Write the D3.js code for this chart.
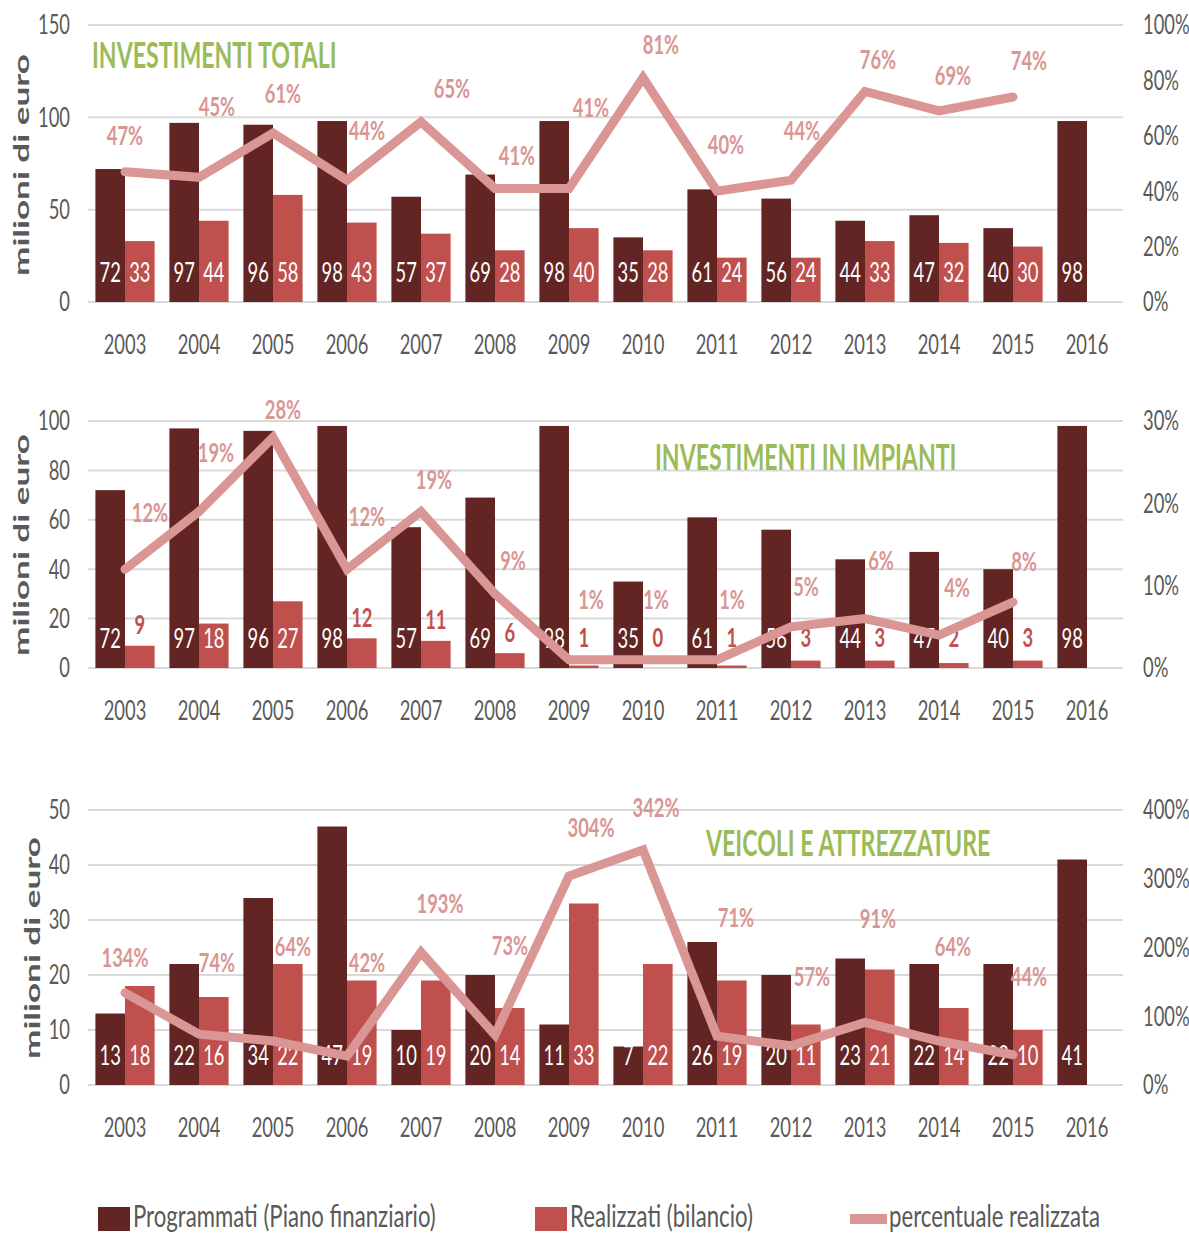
<!DOCTYPE html>
<html>
<head>
<meta charset="utf-8">
<script src="https://cdn.jsdelivr.net/npm/d3@7"></script>
<style>
  body { margin: 0; background: #fff; }
  text { font-family: Lato, "Open Sans", sans-serif; }
</style>
</head>
<body>
<svg id="chart" width="1189" height="1236"></svg>
<script>
// --- data ---
var years = ["2003","2004","2005","2006","2007","2008","2009","2010","2011","2012","2013","2014","2015","2016"];

var totProg = [72, 97, 96, 98, 57, 69, 98, 35, 61, 56, 44, 47, 40, 98];
var totReal = [33, 44, 58, 43, 37, 28, 40, 28, 24, 24, 33, 32, 30];
var totPct  = [47, 45, 61, 44, 65, 41, 41, 81, 40, 44, 76, 69, 74];

var impProg = [72, 97, 96, 98, 57, 69, 98, 35, 61, 56, 44, 47, 40, 98];
var impReal = [9, 18, 27, 12, 11, 6, 1, 0, 1, 3, 3, 2, 3];
var impPct  = [12, 19, 28, 12, 19, 9, 1, 1, 1, 5, 6, 4, 8];

var veiProg = [13, 22, 34, 47, 10, 20, 11, 7, 26, 20, 23, 22, 22, 41];
var veiReal = [18, 16, 22, 19, 19, 14, 33, 22, 19, 11, 21, 14, 10];
var veiPct  = [134, 74, 64, 42, 193, 73, 304, 342, 71, 57, 91, 64, 44];

var totTicks = [0, 50, 100, 150];
var impTicks = [0, 20, 40, 60, 80, 100];
var veiTicks = [0, 10, 20, 30, 40, 50];
var totPctTicks = [0, 20, 40, 60, 80, 100];
var impPctTicks = [0, 10, 20, 30];
var veiPctTicks = [0, 100, 200, 300, 400];

var legendLabels = ["Programmati (Piano finanziario)", "Realizzati (bilancio)", "percentuale realizzata"];

// hand-placed percentage labels (offset from the line point, px)
var totNudge = [[0,-36],[18,-71],[10,-39],[20,-50],[31,-33],[22,-33],[22,-81],[18,-33],[9,-47],[11,-50],[13,-32],[14,-35],[16,-36]];
var impNudge = [[25,-57],[17,-59],[10,-28],[20,-53],[13,-32],[18,-33],[22,-60],[13,-60],[15,-60],[15,-40],[16,-58],[18,-48],[11,-41]];
var veiNudge = [[0,-35],[18,-72],[20,-94],[20,-94],[19,-49],[15,-89],[22,-48],[13,-42],[19,-119],[21,-69],[13,-104],[14,-94],[16,-78]];

// --- styles ---
var C_PROG = "#632523", C_REAL = "#C0504D", C_PCT = "#D99694";
var C_GRID = "#D9D9D9", C_TEXT = "#595959", C_TITLE = "#9BBB59";
var SX = 0.68; // squeeze text horizontally, the source is a stretched image

var svg = d3.select("#chart");

var x = d3.scaleBand().domain(years).range([88, 1124]).padding(0);
var xs = d3.scaleBand().domain(["p", "r"]).range([0, x.bandwidth()]).paddingOuter(0.25);

function tr(px, py, sx) { return "translate(" + px + "," + py + ") scale(" + (sx || SX) + ",1)"; }

function panel(o) {
  var g = svg.append("g");
  var y = d3.scaleLinear().domain([0, o.max]).range([o.y0, o.y1]);
  var yp = d3.scaleLinear().domain([0, o.pmax]).range([o.y0, o.y1]);

  // gridlines
  g.selectAll(".grid").data(o.ticks).join("line")
    .attr("x1", 88).attr("x2", 1123)
    .attr("y1", function(d) { return y(d); }).attr("y2", function(d) { return y(d); })
    .attr("stroke", C_GRID).attr("stroke-width", 2);

  // left ticks
  g.selectAll(".lt").data(o.ticks).join("text")
    .attr("transform", function(d) { return tr(70, y(d)); })
    .attr("dy", "0.35em").attr("text-anchor", "end")
    .attr("font-size", 27).attr("fill", C_TEXT).text(function(d) { return d; });

  // right ticks
  g.selectAll(".rt").data(o.pticks).join("text")
    .attr("transform", function(d) { return tr(1143, yp(d)); })
    .attr("dy", "0.35em").attr("text-anchor", "start")
    .attr("font-size", 27).attr("fill", C_TEXT).text(function(d) { return d + "%"; });

  // years
  g.selectAll(".yr").data(years).join("text")
    .attr("transform", function(d) { return tr(x(d) + x.bandwidth() / 2, o.y0 + 43); })
    .attr("dy", "0.35em").attr("text-anchor", "middle")
    .attr("font-size", 27).attr("fill", C_TEXT).text(function(d) { return d; });

  // axis title
  g.append("text")
    .attr("transform", "translate(" + o.titleX + "," + o.titleY + ") rotate(-90)")
    .attr("text-anchor", "middle").attr("dy", "0.35em")
    .attr("font-family", "DejaVu Sans").attr("font-weight", "bold")
    .attr("font-size", 21).attr("fill", C_TEXT)
    .attr("textLength", 222).attr("lengthAdjust", "spacingAndGlyphs")
    .text("milioni di euro");

  // chart title
  g.append("text")
    .attr("transform", tr(o.nameX, o.nameY, 0.625))
    .attr("dy", "0.35em").attr("font-size", 37).attr("font-weight", 700)
    .attr("fill", C_TITLE).text(o.name);

  // bars
  var bw = xs.bandwidth();
  g.selectAll(".bp").data(o.prog).join("rect")
    .attr("x", function(d, i) { return x(years[i]) + xs("p"); })
    .attr("y", function(d) { return y(d); })
    .attr("width", bw).attr("height", function(d) { return o.y0 - y(d); })
    .attr("fill", C_PROG);
  g.selectAll(".br").data(o.real).join("rect")
    .attr("x", function(d, i) { return x(years[i]) + xs("r"); })
    .attr("y", function(d) { return y(d); })
    .attr("width", bw).attr("height", function(d) { return o.y0 - y(d); })
    .attr("fill", C_REAL);

  // bar labels
  g.selectAll(".lp").data(o.prog).join("text")
    .attr("transform", function(d, i) { return tr(x(years[i]) + xs("p") + bw / 2, o.y0 - 29); })
    .attr("dy", "0.35em").attr("text-anchor", "middle")
    .attr("font-size", 27).attr("fill", "#fff").text(function(d) { return d; });
  g.selectAll(".lr").data(o.real).join("text")
    .attr("transform", function(d, i) {
      var h = o.y0 - y(d);
      var ly = h < 35 ? Math.min(o.y0 - 30, y(d) - 21) : o.y0 - 29;
      return tr(x(years[i]) + xs("r") + bw / 2, ly);
    })
    .attr("dy", "0.35em").attr("text-anchor", "middle")
    .attr("font-size", 27)
    .attr("font-weight", function(d) { return (o.y0 - y(d)) < 35 ? 700 : 400; })
    .attr("fill", function(d) { return (o.y0 - y(d)) < 35 ? C_REAL : "#fff"; })
    .text(function(d) { return d; });

  // percentage line
  var line = d3.line()
    .x(function(d, i) { return x(years[i]) + x.bandwidth() / 2; })
    .y(function(d) { return yp(d); });
  g.append("path").datum(o.pct)
    .attr("d", line).attr("fill", "none")
    .attr("stroke", C_PCT).attr("stroke-width", 9)
    .attr("stroke-linecap", "round").attr("stroke-linejoin", "miter");

  g.selectAll(".pl").data(o.pct).join("text")
    .attr("transform", function(d, i) {
      return tr(x(years[i]) + x.bandwidth() / 2 + o.nudge[i][0], yp(d) + o.nudge[i][1]);
    })
    .attr("dy", "0.35em").attr("text-anchor", "middle")
    .attr("font-size", 27).attr("font-weight", 700)
    .attr("fill", C_PCT).text(function(d) { return d + "%"; });
}

panel({ y0: 302, y1: 25, max: 150, ticks: totTicks, pmax: 100, pticks: totPctTicks,
        prog: totProg, real: totReal, pct: totPct, nudge: totNudge,
        titleX: 22, titleY: 165, name: "INVESTIMENTI TOTALI", nameX: 92, nameY: 55 });
panel({ y0: 668, y1: 421, max: 100, ticks: impTicks, pmax: 30, pticks: impPctTicks,
        prog: impProg, real: impReal, pct: impPct, nudge: impNudge,
        titleX: 22, titleY: 545, name: "INVESTIMENTI IN IMPIANTI", nameX: 655, nameY: 457 });
panel({ y0: 1085, y1: 810, max: 50, ticks: veiTicks, pmax: 400, pticks: veiPctTicks,
        prog: veiProg, real: veiReal, pct: veiPct, nudge: veiNudge,
        titleX: 33, titleY: 948, name: "VEICOLI E ATTREZZATURE", nameX: 706, nameY: 843 });

// legend
var lg = svg.append("g");
var legX = [98, 535, 850];
lg.append("rect").attr("x", legX[0]).attr("y", 1207).attr("width", 32).attr("height", 24).attr("fill", C_PROG);
lg.append("rect").attr("x", legX[1]).attr("y", 1207).attr("width", 32).attr("height", 24).attr("fill", C_REAL);
lg.append("line").attr("x1", legX[2]).attr("x2", legX[2] + 37).attr("y1", 1219).attr("y2", 1219)
  .attr("stroke", C_PCT).attr("stroke-width", 10);
lg.selectAll(".lt").data(legendLabels).join("text")
  .attr("transform", function(d, i) { return tr(legX[i] + (i < 2 ? 35 : 39), 1216, 0.74); })
  .attr("dy", "0.35em").attr("font-size", 30).attr("fill", C_TEXT)
  .text(function(d) { return d; });
</script>
</body>
</html>
